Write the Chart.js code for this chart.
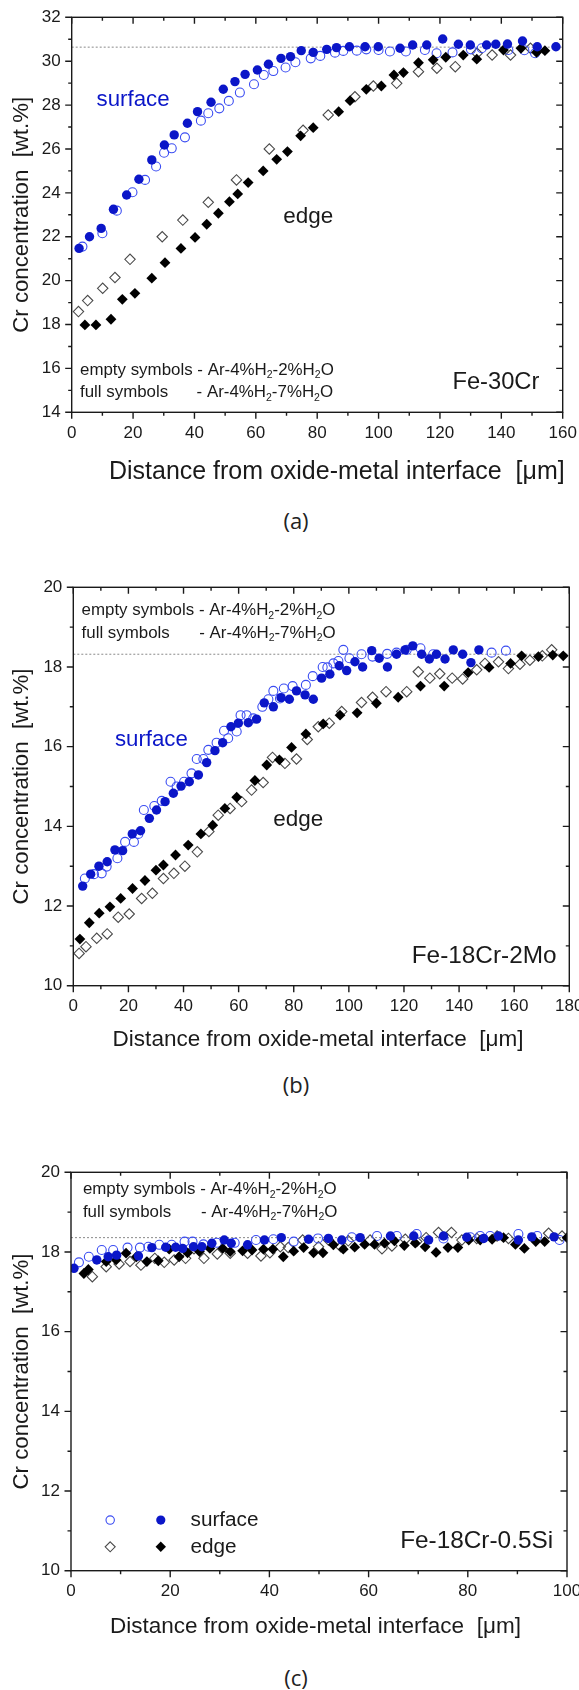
<!DOCTYPE html>
<html lang="en">
<head>
<meta charset="UTF-8">
<title>Cr concentration profiles</title>
<script src="https://cdn.jsdelivr.net/npm/chart.js"></script>
<style>
  body { margin: 0; background: #fff; overflow: hidden; }
  #page { position: relative; width: 579px; height: 1690px; overflow: hidden; }
  canvas { position: absolute; left: 0; }
  .cap { position: absolute; left: 0; width: 592px; text-align: center; font: 22px "Open Sans", sans-serif; color: #222; line-height: 30px; }
</style>
</head>
<body>
<div id="page">
  <canvas id="chartA" width="579" height="500" style="top:0px"></canvas>
  <div class="cap" style="top:505px">(a)</div>
  <canvas id="chartB" width="579" height="500" style="top:560px"></canvas>
  <div class="cap" style="top:1069px">(b)</div>
  <canvas id="chartC" width="579" height="500" style="top:1150px"></canvas>
  <div class="cap" style="top:1662px">(c)</div>
</div>
<script>
// ---- data (distance in um, Cr in wt.%) ----
// (a) Fe-30Cr
const aXTicks = [0, 20, 40, 60, 80, 100, 120, 140, 160];
const aYTicks = [14, 16, 18, 20, 22, 24, 26, 28, 30, 32];
const aBulk = 30.64;
const aSurfFull = [[2.4,21.47],[5.8,22.0],[9.6,22.38],[13.6,23.25],[17.9,23.9],[21.9,24.62],[26.1,25.5],[30.2,26.18],[33.4,26.64],[37.7,27.17],[41.0,27.7],[45.4,28.13],[49.4,28.72],[53.2,29.07],[56.5,29.4],[60.5,29.6],[64.1,29.86],[68.2,30.13],[71.3,30.21],[74.8,30.48],[78.7,30.4],[83.1,30.54],[86.3,30.62],[90.5,30.66],[95.6,30.66],[99.9,30.66],[107,30.59],[111.1,30.74],[115.7,30.74],[120.9,31.01],[126,30.77],[129.9,30.74],[135.2,30.74],[138.2,30.77],[142,30.78],[146.9,30.92],[151.7,30.66],[157.8,30.66]];
const aSurfEmpty = [[3.5,21.55],[10.0,22.16],[14.7,23.19],[19.8,24.03],[23.9,24.59],[27.5,25.2],[30.1,25.83],[32.6,26.03],[36.9,26.53],[42.1,27.29],[44.5,27.63],[48.1,27.85],[51.2,28.19],[54.8,28.57],[59.4,28.95],[62.6,29.37],[65.7,29.55],[69.7,29.71],[72.9,29.95],[77.9,30.13],[81,30.24],[85.8,30.39],[88.5,30.47],[92.9,30.48],[96,30.54],[100,30.51],[103.7,30.44],[108.9,30.44],[115.1,30.51],[118.9,30.36],[124.1,30.4],[130.1,30.54],[133.6,30.59],[142.3,30.51],[147.5,30.5],[151,30.36]];
const aEdgeFull = [[4.3,17.98],[7.9,17.98],[12.8,18.24],[16.5,19.15],[20.6,19.42],[26.1,20.11],[30.4,20.82],[35.6,21.47],[40.2,21.97],[44,22.57],[47.8,23.07],[51.4,23.6],[54.1,23.95],[57.5,24.47],[62.4,25.0],[66.8,25.53],[70.3,25.88],[74.6,26.6],[78.7,26.97],[87,27.7],[90.7,28.2],[96,28.72],[100.9,28.87],[105,29.37],[108.1,29.48],[113,29.93],[117.8,30.06],[121.9,30.18],[127.6,30.28],[132,30.09],[140.7,30.51],[146.4,30.59],[151.5,30.4],[154.2,30.48]];
const aEdgeEmpty = [[2.2,18.59],[5.2,19.09],[10.1,19.65],[14.1,20.14],[19.0,20.97],[29.5,22.0],[36.2,22.76],[44.5,23.57],[53.7,24.59],[64.4,26.0],[75.4,26.85],[83.6,27.55],[92.3,28.38],[98.3,28.87],[105.9,28.99],[113,29.52],[119,29.68],[125,29.75],[132.1,30.36],[137,30.28],[143,30.28],[149.5,30.59]];

// (b) Fe-18Cr-2Mo
const bXTicks = [0, 20, 40, 60, 80, 100, 120, 140, 160, 180];
const bYTicks = [10, 12, 14, 16, 18, 20];
const bBulk = 18.32;
const bSurfFull = [[3.4,12.5],[6.3,12.8],[9.3,13.0],[12.3,13.11],[15.1,13.41],[17.9,13.39],[21.4,13.81],[24.4,13.89],[27.6,14.2],[30.2,14.41],[33.3,14.62],[36.3,14.83],[39.1,15.01],[42.1,15.12],[45.4,15.29],[48.4,15.6],[51.4,15.9],[54.2,16.1],[57.2,16.5],[59.9,16.59],[63.5,16.6],[66.5,16.69],[69.3,17.1],[72.6,17.0],[75.4,17.23],[78.4,17.19],[81,17.4],[84.1,17.3],[87.1,17.19],[90.1,17.72],[93.1,17.82],[96.5,18.03],[99.2,17.91],[102.2,18.13],[105,18.0],[108.3,18.41],[111,18.22],[114,18.0],[117.3,18.32],[120.4,18.43],[123.2,18.53],[126.4,18.32],[129.2,18.2],[131.8,18.32],[134.9,18.2],[137.9,18.43],[141.3,18.32],[144.3,18.11],[147.2,18.43]];
const bSurfEmpty = [[4.2,12.69],[7.5,12.8],[10.3,12.82],[12.1,12.99],[16,13.2],[18.8,13.61],[22,13.61],[23.6,13.81],[25.6,14.41],[29.4,14.51],[32.1,14.64],[35.3,15.12],[37.5,15.0],[40.2,15.12],[42.9,15.33],[44.8,15.69],[47.2,15.69],[49,15.92],[52,16.1],[54.7,16.4],[56.2,16.21],[59.3,16.38],[60.7,16.79],[62.9,16.79],[65.3,16.71],[68.6,17.0],[70.8,17.19],[72.6,17.4],[75,17.21],[76.4,17.46],[79.6,17.52],[84.4,17.55],[86.9,17.77],[90.5,18.0],[92.2,17.99],[94.4,18.09],[96.2,18.15],[98,18.43],[100.2,18.22],[104.6,18.32],[108.6,18.26],[113.9,18.33],[117.3,18.36],[121,18.43],[126,18.47],[130.6,18.32],[151.8,18.36],[157,18.41]];
const bEdgeFull = [[2.4,11.17],[5.8,11.58],[9.4,11.82],[13.3,11.98],[17.2,12.19],[21.5,12.44],[26,12.64],[30,12.9],[32.7,13.03],[37.1,13.28],[41.7,13.53],[46.3,13.81],[50.6,14.03],[55,14.45],[59.3,14.73],[65.9,15.15],[70.2,15.54],[74.8,15.67],[79.2,15.98],[84.4,16.32],[90.7,16.57],[96.8,16.79],[103,16.85],[110,17.09],[117.9,17.24],[126,17.52],[134.6,17.52],[143.3,17.86],[150.9,17.99],[158.7,18.09],[162.7,18.28],[168.8,18.26],[174,18.3],[177.8,18.28]];
const bEdgeEmpty = [[2.1,10.81],[4.6,10.98],[8.5,11.19],[12.3,11.3],[16.3,11.72],[20.3,11.8],[24.8,12.19],[28.7,12.32],[32.7,12.69],[36.5,12.82],[40.5,13.0],[45,13.36],[49.2,13.87],[52.6,14.28],[56.9,14.45],[61.1,14.62],[64.7,14.91],[68.9,15.1],[72.3,15.73],[76.8,15.58],[81,15.69],[84.9,16.18],[88.9,16.5],[92.9,16.59],[97.4,16.88],[104.6,17.11],[108.6,17.24],[113.5,17.38],[121,17.38],[125.2,17.88],[129.4,17.72],[133,17.83],[137.5,17.72],[141.3,17.7],[146.4,17.93],[149.4,18.09],[154.3,18.13],[157.9,17.96],[162.1,18.07],[165.7,18.17],[170.2,18.28],[173.6,18.43]];

// (c) Fe-18Cr-0.5Si
const cXTicks = [0, 20, 40, 60, 80, 100];
const cYTicks = [10, 12, 14, 16, 18, 20];
const cBulk = 18.36;
const cSurfFull = [[0.6,17.59],[5.2,17.8],[7.5,17.88],[9.2,17.92],[13.6,17.9],[16.3,18.11],[19.1,18.12],[21.1,18.12],[22.5,18.09],[24.7,18.13],[26.4,18.13],[28.4,18.22],[30.9,18.3],[32.3,18.22],[35.6,18.18],[39,18.3],[42.4,18.36],[47.9,18.32],[51.9,18.34],[54.6,18.3],[58.3,18.36],[64.4,18.4],[69.1,18.4],[72.1,18.3],[75.1,18.4],[79.8,18.37],[83.2,18.34],[86.2,18.4],[90.2,18.3],[92.9,18.38],[97.4,18.38]];
const cSurfEmpty = [[1.6,17.74],[3.6,17.88],[6.2,18.05],[8.5,18.05],[11.4,18.11],[13.9,18.11],[15.6,18.13],[17.8,18.18],[20.3,18.18],[22.9,18.26],[24.5,18.26],[26.7,18.19],[29.4,18.23],[33,18.23],[37.3,18.3],[40.8,18.32],[44.9,18.26],[49.8,18.34],[56.6,18.37],[61.7,18.4],[65.7,18.4],[69.7,18.45],[75.1,18.34],[80.5,18.37],[82.5,18.4],[84.5,18.4],[90.2,18.45],[94,18.4],[98.5,18.3]];
const cEdgeFull = [[2.6,17.46],[3.5,17.56],[7.1,17.76],[9.1,17.8],[11.1,17.97],[13.2,17.88],[15.3,17.76],[17.6,17.78],[19.8,18.07],[21.8,17.88],[23.5,17.98],[25.9,18.01],[28,18.09],[30.6,18.09],[32.1,18.01],[34.6,18.03],[36.5,18.05],[38.8,18.07],[40.7,18.07],[42.8,17.88],[44.9,18.02],[46.9,18.11],[48.9,17.98],[50.8,17.98],[52.9,18.18],[54.9,18.07],[57.2,18.12],[59.2,18.19],[61.2,18.19],[63.2,18.22],[65.2,18.28],[67.2,18.16],[69.4,18.22],[71.4,18.13],[73.6,17.99],[76,18.11],[78,18.11],[80.2,18.3],[82.5,18.3],[84.9,18.32],[87.2,18.36],[89.6,18.19],[91.4,18.09],[93.7,18.26],[95.5,18.26],[100,18.36]];
const cEdgeEmpty = [[4.3,17.38],[7.1,17.63],[9.7,17.7],[11.9,17.76],[14.1,17.67],[16.9,17.84],[18.8,17.74],[20.8,17.8],[23.1,17.84],[24.8,18.08],[26.8,17.84],[29.5,17.95],[32.1,17.97],[35.6,17.97],[38.3,17.9],[40.1,17.98],[42.2,18.13],[43.8,18.11],[46.7,18.3],[49.9,18.13],[51.9,18.3],[54.4,18.13],[55.9,18.28],[60.3,18.3],[62.7,18.08],[64.7,18.15],[67.4,18.32],[69.7,18.26],[71.6,18.36],[74.1,18.49],[76.7,18.49],[78.8,18.3],[81.8,18.34],[85.9,18.4],[88.2,18.34],[96.3,18.47],[99,18.4]];

const xTitle = 'Distance from oxide-metal interface  [\u03bcm]';
const yTitle = 'Cr concentration  [wt.%]';

// ---- styles ----
const FONT = '"Liberation Sans", Arial, sans-serif';
const INK = '#1a1a1a';
const BLUE = '#0b16c8';
const BLUE_LIGHT = '#3a4cf2';
const GRAY = '#4a4a4a';

const line1 = [['empty symbols - Ar-4%H', 0], ['2', 1], ['-2%H', 0], ['2', 1], ['O', 0]];
const line2 = [['- Ar-4%H', 0], ['2', 1], ['-7%H', 0], ['2', 1], ['O', 0]];

function pts(arr) { return arr.map(p => ({ x: p[0], y: p[1] })); }

function seriesSets(surfFull, surfEmpty, edgeFull, edgeEmpty, bulk, xMax) {
  return [
    { data: pts(surfFull), pointStyle: 'circle', pointRadius: 4.7, backgroundColor: BLUE, borderColor: BLUE, borderWidth: 0 },
    { data: pts(edgeFull), pointStyle: 'rectRot', pointRadius: 5.4, backgroundColor: '#000', borderColor: '#000', borderWidth: 0 },
    { data: pts(surfEmpty), pointStyle: 'circle', pointRadius: 4.5, backgroundColor: 'rgba(255,255,255,0)', borderColor: BLUE_LIGHT, borderWidth: 1.1 },
    { data: pts(edgeEmpty), pointStyle: 'rectRot', pointRadius: 5.2, backgroundColor: 'rgba(255,255,255,0)', borderColor: GRAY, borderWidth: 1.1 },
    { data: [{ x: 0, y: bulk }, { x: xMax, y: bulk }], showLine: true, pointRadius: 0, borderColor: '#8a8a8a', borderWidth: 1, borderDash: [2, 2] }
  ];
}

// font size that makes a string span the width seen in the figure
function fit(ctx, text, width) {
  ctx.font = '20px ' + FONT;
  return 20 * width / ctx.measureText(text).width;
}

function richWidth(ctx, segs, size) {
  let w = 0;
  segs.forEach(([s, sub]) => { ctx.font = (sub ? size * 0.62 : size) + 'px ' + FONT; w += ctx.measureText(s).width; });
  return w;
}

function drawRich(ctx, segs, x, y, size) {
  segs.forEach(([s, sub]) => {
    ctx.font = (sub ? size * 0.62 : size) + 'px ' + FONT;
    ctx.fillText(s, x, sub ? y + size * 0.3 : y);
    x += ctx.measureText(s).width;
  });
}

function diamond(ctx, x, y, r) {
  ctx.beginPath();
  ctx.moveTo(x, y - r); ctx.lineTo(x + r, y); ctx.lineTo(x, y + r); ctx.lineTo(x - r, y); ctx.closePath();
}

function framePlugin(cfg) {
  return {
    id: 'frame',
    afterDatasetsDraw(chart) {
      const ctx = chart.ctx, a = chart.chartArea, xs = chart.scales.x, ys = chart.scales.y;
      const X = v => xs.getPixelForValue(v), Y = v => ys.getPixelForValue(v);
      ctx.save();
      ctx.strokeStyle = INK;
      ctx.lineWidth = 1.4;
      ctx.strokeRect(a.left, a.top, a.right - a.left, a.bottom - a.top);

      // major + minor ticks: outward on left/bottom, inward on top/right
      const minX = cfg.xTicks.slice(1).map((v, i) => (v + cfg.xTicks[i]) / 2);
      const minY = cfg.yTicks.slice(1).map((v, i) => (v + cfg.yTicks[i]) / 2);
      ctx.beginPath();
      const tx = (v, len) => { const p = X(v); ctx.moveTo(p, a.bottom); ctx.lineTo(p, a.bottom + len); ctx.moveTo(p, a.top); ctx.lineTo(p, a.top + len); };
      const ty = (v, len) => { const p = Y(v); ctx.moveTo(a.left, p); ctx.lineTo(a.left - len, p); ctx.moveTo(a.right, p); ctx.lineTo(a.right - len, p); };
      cfg.xTicks.forEach(v => tx(v, 6.5));
      minX.forEach(v => tx(v, 3.5));
      cfg.yTicks.forEach(v => ty(v, 6.5));
      minY.forEach(v => ty(v, 3.5));
      ctx.stroke();

      // tick labels
      ctx.fillStyle = INK;
      ctx.font = '17px ' + FONT;
      ctx.textBaseline = 'middle';
      ctx.textAlign = 'center';
      cfg.xTicks.forEach(v => ctx.fillText(String(v), X(v), a.bottom + 21));
      ctx.textAlign = 'right';
      cfg.yTicks.forEach(v => ctx.fillText(String(v), a.left - 11, Y(v)));

      // axis titles
      ctx.textAlign = 'left';
      ctx.font = fit(ctx, xTitle, cfg.xTitleWidth) + 'px ' + FONT;
      ctx.fillText(xTitle, cfg.xTitleLeft, a.bottom + cfg.xTitleGap);
      ctx.save();
      ctx.translate(21.7, (a.top + a.bottom) / 2);
      ctx.rotate(-Math.PI / 2);
      ctx.textAlign = 'center';
      ctx.font = fit(ctx, yTitle, 236) + 'px ' + FONT;
      ctx.fillText(yTitle, 0, 0);
      ctx.restore();

      // in-plot notes
      ctx.textAlign = 'left';
      const L = cfg.legendText;
      const ls = 16.5 * 254 / richWidth(ctx, line1, 16.5);
      drawRich(ctx, line1, X(L.x), Y(L.y1), ls);
      ctx.font = ls + 'px ' + FONT;
      ctx.fillText('full symbols', X(L.x), Y(L.y2));
      drawRich(ctx, line2, X(L.dashX), Y(L.y2), ls);

      ctx.font = fit(ctx, cfg.alloy.text, cfg.alloy.w) + 'px ' + FONT;
      ctx.textAlign = 'right';
      ctx.fillText(cfg.alloy.text, X(cfg.alloy.x), Y(cfg.alloy.y));

      ctx.textAlign = 'left';
      if (cfg.surface) {
        ctx.fillStyle = BLUE;
        ctx.font = fit(ctx, 'surface', 73) + 'px ' + FONT;
        ctx.fillText('surface', X(cfg.surface.x), Y(cfg.surface.y));
      }
      if (cfg.edge) {
        ctx.fillStyle = INK;
        ctx.font = fit(ctx, 'edge', 50) + 'px ' + FONT;
        ctx.fillText('edge', X(cfg.edge.x), Y(cfg.edge.y));
      }

      if (cfg.keys) {
        const k = cfg.keys;
        ctx.lineWidth = 1.1;
        ctx.strokeStyle = BLUE_LIGHT;
        ctx.beginPath(); ctx.arc(X(k.xEmpty), Y(k.ySurf), 4.2, 0, Math.PI * 2); ctx.stroke();
        ctx.fillStyle = BLUE;
        ctx.beginPath(); ctx.arc(X(k.xFull), Y(k.ySurf), 4.6, 0, Math.PI * 2); ctx.fill();
        ctx.strokeStyle = GRAY;
        diamond(ctx, X(k.xEmpty), Y(k.yEdge), 5); ctx.stroke();
        ctx.fillStyle = '#000';
        diamond(ctx, X(k.xFull), Y(k.yEdge), 5.2); ctx.fill();
        ctx.fillStyle = INK;
        ctx.font = fit(ctx, 'surface', 68) + 'px ' + FONT;
        ctx.fillText('surface', X(k.xText), Y(k.ySurf));
        ctx.fillText('edge', X(k.xText), Y(k.yEdge));
      }
      ctx.restore();
    }
  };
}

function makeChart(id, sets, xr, yr, pad, cfg) {
  return new Chart(document.getElementById(id), {
    type: 'scatter',
    data: { datasets: sets },
    options: {
      responsive: false,
      animation: false,
      devicePixelRatio: 1,
      events: [],
      layout: { padding: pad },
      plugins: { legend: { display: false }, tooltip: { enabled: false } },
      scales: {
        x: { type: 'linear', min: xr[0], max: xr[1], display: false },
        y: { type: 'linear', min: yr[0], max: yr[1], display: false }
      }
    },
    plugins: [framePlugin(cfg)]
  });
}

makeChart('chartA',
  seriesSets(aSurfFull, aSurfEmpty, aEdgeFull, aEdgeEmpty, aBulk, 160),
  [0, 160], [14, 32],
  { left: 71.7, right: 16.3, top: 17.3, bottom: 87.7 },
  {
    xTicks: aXTicks, yTicks: aYTicks, xTitleWidth: 456, xTitleLeft: 109, xTitleGap: 59.4,
    legendText: { x: 2.7, y1: 15.92, y2: 14.89, dashX: 40.7 },
    alloy: { text: 'Fe-30Cr', x: 152.4, y: 15.35, w: 87 },
    surface: { x: 8.1, y: 28.23 }, edge: { x: 68.9, y: 22.91 }
  });

makeChart('chartB',
  seriesSets(bSurfFull, bSurfEmpty, bEdgeFull, bEdgeEmpty, bBulk, 180),
  [0, 180], [10, 20],
  { left: 73.3, right: 9.7, top: 27.3, bottom: 74.3 },
  {
    xTicks: bXTicks, yTicks: bYTicks, xTitleWidth: 411, xTitleLeft: 112.6, xTitleGap: 54.3,
    legendText: { x: 3.0, y1: 19.41, y2: 18.85, dashX: 45.7 },
    alloy: { text: 'Fe-18Cr-2Mo', x: 175.4, y: 10.73, w: 145 },
    surface: { x: 15.1, y: 16.17 }, edge: { x: 72.6, y: 14.16 }
  });

makeChart('chartC',
  seriesSets(cSurfFull, cSurfEmpty, cEdgeFull, cEdgeEmpty, cBulk, 100),
  [0, 100], [10, 20],
  { left: 71, right: 12, top: 22.3, bottom: 79.3 },
  {
    xTicks: cXTicks, yTicks: cYTicks, xTitleWidth: 411, xTitleLeft: 110, xTitleGap: 56,
    legendText: { x: 2.4, y1: 19.56, y2: 18.99, dashX: 26.2 },
    alloy: { text: 'Fe-18Cr-0.5Si', x: 97.2, y: 10.73, w: 153 },
    keys: { xEmpty: 7.9, xFull: 18.1, xText: 24.1, ySurf: 11.27, yEdge: 10.6 }
  });
</script>
</body>
</html>
